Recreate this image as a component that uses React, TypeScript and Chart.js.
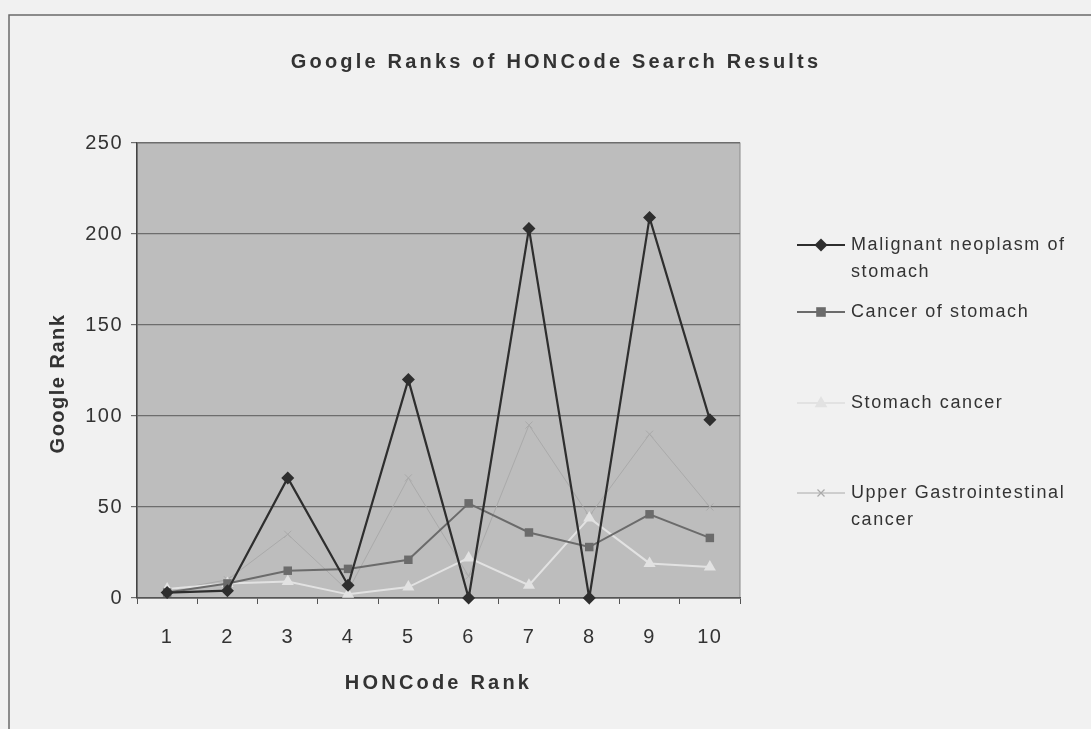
import React, { useEffect, useRef } from "react";
import { Chart, registerables } from "chart.js";

Chart.register(...registerables);

const categories = ["1", "2", "3", "4", "5", "6", "7", "8", "9", "10"];
const malignantNeoplasm = [3, 4, 66, 7, 120, 0, 203, 0, 209, 98];
const cancerOfStomach = [3, 8, 15, 16, 21, 52, 36, 28, 46, 33];
const stomachCancer = [5, 8, 9, 2, 6, 22, 7, 44, 19, 17];
const upperGI = [4, 10, 35, 4, 66, 12, 95, 45, 90, 50];
const seriesNames = [
  ["Malignant neoplasm of", "stomach"],
  ["Cancer of stomach"],
  ["Stomach cancer"],
  ["Upper Gastrointestinal", "cancer"],
];
const chartTitle = "Google Ranks of HONCode Search Results";
const xTitle = "HONCode Rank";
const yTitle = "Google Rank";

const FONT = '"Liberation Sans Narrow", "Arial Narrow", "Liberation Sans", Arial, sans-serif';

function drawMarker(ctx: CanvasRenderingContext2D, style: string, x: number, y: number, r: number, color: string) {
  ctx.save();
  ctx.fillStyle = color;
  ctx.strokeStyle = color;
  ctx.beginPath();
  if (style === "rectRot") {
    ctx.moveTo(x, y - r);
    ctx.lineTo(x + r, y);
    ctx.lineTo(x, y + r);
    ctx.lineTo(x - r, y);
    ctx.closePath();
    ctx.fill();
  } else if (style === "rect") {
    ctx.rect(x - r * 0.8, y - r * 0.8, r * 1.6, r * 1.6);
    ctx.fill();
  } else if (style === "triangle") {
    ctx.moveTo(x, y - r);
    ctx.lineTo(x + r * 0.9, y + r * 0.6);
    ctx.lineTo(x - r * 0.9, y + r * 0.6);
    ctx.closePath();
    ctx.fill();
  } else {
    ctx.lineWidth = 1.2;
    ctx.moveTo(x - r * 0.7, y - r * 0.7);
    ctx.lineTo(x + r * 0.7, y + r * 0.7);
    ctx.moveTo(x + r * 0.7, y - r * 0.7);
    ctx.lineTo(x - r * 0.7, y + r * 0.7);
    ctx.stroke();
  }
  ctx.restore();
}

const framePlugin = {
  id: "frame",
  beforeDraw(chart: any) {
    const { ctx, chartArea } = chart;
    ctx.save();
    ctx.fillStyle = "#f1f1f1";
    ctx.fillRect(0, 0, chart.width, chart.height);
    ctx.strokeStyle = "#6a6a6a";
    ctx.lineWidth = 1.5;
    ctx.beginPath();
    ctx.moveTo(9, chart.height);
    ctx.lineTo(9, 15);
    ctx.lineTo(chart.width, 15);
    ctx.stroke();
    ctx.fillStyle = "#bdbdbd";
    ctx.fillRect(chartArea.left, chartArea.top, chartArea.right - chartArea.left, chartArea.bottom - chartArea.top);
    ctx.strokeStyle = "#8a8a8a";
    ctx.lineWidth = 1;
    ctx.strokeRect(chartArea.left, chartArea.top, chartArea.right - chartArea.left, chartArea.bottom - chartArea.top);
    ctx.restore();
    (ctx as any).letterSpacing = "1.5px";
  },
  afterDraw(chart: any) {
    const { ctx } = chart;
    ctx.save();
    (ctx as any).letterSpacing = "3.2px";
    ctx.fillStyle = "#333";
    ctx.font = `bold 20px ${FONT}`;
    ctx.textAlign = "center";
    ctx.textBaseline = "middle";
    ctx.fillText(chartTitle, 556, 62);

    // legend
    const ys = [245, 312, 403, 493];
    (ctx as any).letterSpacing = "1.6px";
    ctx.font = `18px ${FONT}`;
    ctx.textAlign = "left";
    chart.data.datasets.forEach((ds: any, i: number) => {
      const y = ys[i];
      ctx.strokeStyle = ds.borderColor;
      ctx.lineWidth = ds.borderWidth;
      ctx.beginPath();
      ctx.moveTo(797, y);
      ctx.lineTo(845, y);
      ctx.stroke();
      drawMarker(ctx, ds.pointStyle, 821, y, ds.pointRadius, ds.pointBackgroundColor);
      ctx.fillStyle = "#333";
      seriesNames[i].forEach((line, j) => {
        ctx.fillText(line, 851, y + j * 27);
      });
    });
    ctx.restore();
  },
};

function spacedTitle(s: any, spacing: string, dy: number) {
  if (s.__spaced) return;
  s.__spaced = true;
  const orig = s.drawTitle;
  s.drawTitle = function (...args: any[]) {
    const ctx = this.ctx;
    ctx.save();
    ctx.letterSpacing = spacing;
    ctx.translate(0, dy);
    orig.apply(this, args);
    ctx.restore();
  };
}

export default function App() {
  const ref = useRef<HTMLCanvasElement>(null);
  useEffect(() => {
    if (!ref.current) return;
    const mk = (label: string, data: number[], color: string, style: string, width: number, r: number) => ({
      label,
      data,
      borderColor: color,
      backgroundColor: color,
      pointBackgroundColor: color,
      pointBorderColor: color,
      pointStyle: style,
      pointRadius: r,
      borderWidth: width,
      pointBorderWidth: style === "crossRot" ? 1 : 0,
      tension: 0,
      clip: false as any,
    });
    const chart = new Chart(ref.current, {
      type: "line",
      data: {
        labels: categories,
        datasets: [
          mk("Malignant neoplasm of stomach", malignantNeoplasm, "#2e2e2e", "rectRot", 2.2, 6.5),
          mk("Cancer of stomach", cancerOfStomach, "#6b6b6b", "rect", 2, 6),
          mk("Stomach cancer", stomachCancer, "#e2e2e2", "triangle", 2, 7),
          mk("Upper Gastrointestinal cancer", upperGI, "#aaaaaa", "crossRot", 1, 5),
        ],
      },
      options: {
        animation: false,
        responsive: false,
        events: [],
        layout: { padding: { left: 0, top: 143, right: 351, bottom: 0 } },
        plugins: { legend: { display: false }, tooltip: { enabled: false }, title: { display: false } },
        scales: {
          x: {
            offset: true,
            grid: { drawOnChartArea: false, offset: true, tickLength: 6, color: "#555" },
            border: { color: "#555", width: 1.5 },
            ticks: { color: "#333", font: { family: FONT, size: 20 }, padding: 21, maxRotation: 0 },
            title: { display: true, text: xTitle, color: "#333", font: { family: FONT, size: 20, weight: "bold" }, padding: { bottom: 34 } },
            afterFit(s: any) {
              s.height = 131;
              spacedTitle(s, "3.2px", 0);
            },
          },
          y: {
            min: 0,
            max: 250,
            ticks: { stepSize: 50, color: "#333", font: { family: FONT, size: 20 }, padding: 8 },
            grid: { color: "#6d6d6d", lineWidth: 1.2, tickLength: 6 },
            border: { color: "#444", width: 1.5 },
            title: { display: true, text: yTitle, color: "#333", font: { family: FONT, size: 20, weight: "bold" }, padding: { top: 46 } },
            afterFit(s: any) {
              s.width = 137;
              spacedTitle(s, "1.5px", 13);
            },
          },
        },
      },
      plugins: [framePlugin],
    });
    return () => chart.destroy();
  }, []);
  return (
    <div style={{ position: "absolute", left: 0, top: 0, width: 1091, height: 729 }}>
      <canvas ref={ref} width={1091} height={729} />
    </div>
  );
}
